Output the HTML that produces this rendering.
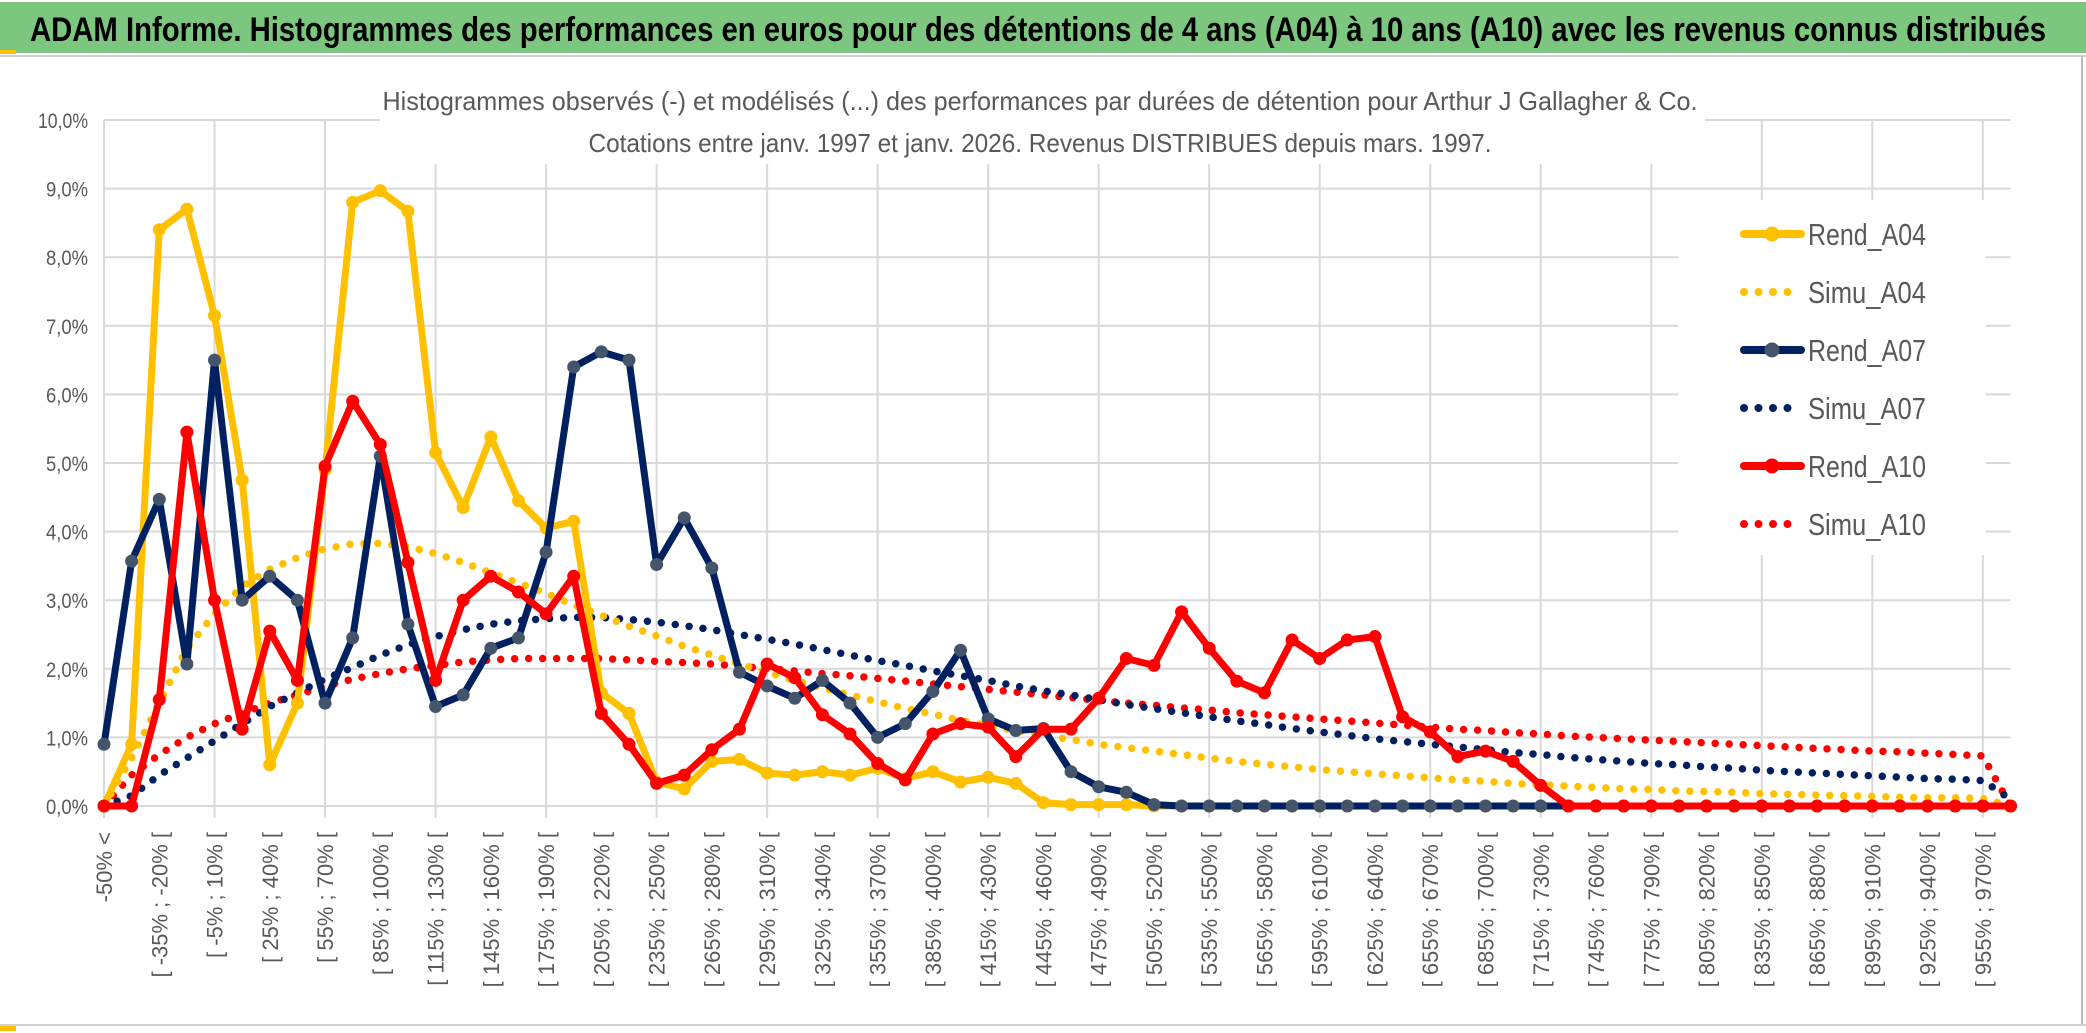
<!DOCTYPE html>
<html><head><meta charset="utf-8"><style>
html,body{margin:0;padding:0;background:#fff;}
svg{display:block;font-family:"Liberation Sans",sans-serif;}
</style></head><body>
<svg id="chart" width="2086" height="1033" viewBox="0 0 2086 1033" xmlns="http://www.w3.org/2000/svg">
<rect x="0" y="0" width="2086" height="1033" fill="#fff"/>
<rect x="0" y="2" width="2086" height="51" fill="#7dc67f"/>
<rect x="0" y="50" width="16" height="4" fill="#ffc000"/>
<line x1="0" y1="56" x2="2086" y2="56" stroke="#d0d0d0" stroke-width="2"/>
<text x="30" y="41" font-size="34" font-weight="bold" fill="#000" textLength="2016" lengthAdjust="spacingAndGlyphs">ADAM Informe. Histogrammes des performances en euros pour des détentions de 4 ans (A04) à 10 ans (A10) avec les revenus connus distribués</text>
<line x1="2082" y1="56" x2="2082" y2="1025" stroke="#bdbdbd" stroke-width="2"/>
<line x1="0" y1="1025" x2="2086" y2="1025" stroke="#d0d0d0" stroke-width="2"/>
<rect x="0" y="1026" width="16" height="5" fill="#ffc000"/>
<g id="grid"></g>
<rect x="380" y="76" width="1325" height="88" fill="#fff"/>
<text x="1040" y="110" font-size="26" fill="#595959" text-anchor="middle" textLength="1315" lengthAdjust="spacingAndGlyphs">Histogrammes observés (-) et modélisés (...) des performances par durées de détention pour Arthur J Gallagher &amp; Co.</text>
<text x="1040" y="152" font-size="26" fill="#595959" text-anchor="middle" textLength="903" lengthAdjust="spacingAndGlyphs">Cotations entre janv. 1997 et janv. 2026. Revenus DISTRIBUES depuis mars. 1997.</text>
<g id="yaxis"></g>
<g id="xaxis"></g>
<g id="series"></g>
<g id="legend"></g>
</svg>
<script>
const yTicks = [0,1,2,3,4,5,6,7,8,9,10];
const binStart = -50, binStep = 15, binCount = 68;
const rendA04 = [0,0.9,8.4,8.7,7.15,4.75,0.6,1.5,4.9,8.8,8.97,8.67,5.15,4.35,5.38,4.45,4.05,4.15,1.65,1.35,0.35,0.25,0.65,0.68,0.48,0.45,0.5,0.45,0.55,0.4,0.5,0.35,0.42,0.33,0.05,0.02,0.02,0.02,0,0,0,0,0,0,0,0,0,0,0,0,0,0,0,0,0,0,0,0,0,0,0,0,0,0,0,0,0,0,0,0];
const simuA04 = [0,0.7,1.5,2.3,2.8,3.2,3.45,3.62,3.75,3.82,3.83,3.78,3.68,3.55,3.4,3.25,3.1,2.93,2.78,2.62,2.48,2.33,2.2,2.07,1.95,1.83,1.72,1.62,1.52,1.42,1.34,1.25,1.17,1.1,1.03,0.97,0.9,0.85,0.8,0.75,0.7,0.65,0.61,0.57,0.53,0.5,0.47,0.44,0.41,0.38,0.36,0.33,0.31,0.29,0.27,0.25,0.24,0.22,0.21,0.2,0.18,0.17,0.16,0.15,0.14,0.13,0.12,0.12,0.11,0];
const rendA07 = [0.9,3.57,4.47,2.07,6.5,3.0,3.35,3.0,1.5,2.45,5.1,2.65,1.45,1.62,2.3,2.45,3.7,6.4,6.62,6.5,3.52,4.2,3.47,1.95,1.75,1.57,1.83,1.5,1.0,1.2,1.67,2.27,1.27,1.1,1.13,0.5,0.28,0.2,0.02,0,0,0,0,0,0,0,0,0,0,0,0,0,0,0,0,0,0,0,0,0,0,0,0,0,0,0,0,0,0,0];
const simuA07 = [0,0.15,0.45,0.7,0.95,1.2,1.45,1.65,1.85,2.02,2.2,2.35,2.47,2.57,2.65,2.7,2.73,2.75,2.75,2.72,2.68,2.63,2.57,2.5,2.43,2.36,2.28,2.2,2.12,2.05,1.97,1.9,1.83,1.75,1.68,1.62,1.55,1.48,1.42,1.36,1.3,1.24,1.19,1.13,1.08,1.03,0.98,0.94,0.9,0.86,0.82,0.78,0.75,0.71,0.68,0.65,0.62,0.6,0.57,0.55,0.52,0.5,0.48,0.46,0.44,0.42,0.4,0.39,0.37,0.1];
const rendA10 = [0,0,1.55,5.45,3.0,1.12,2.55,1.83,4.95,5.9,5.27,3.55,1.83,3.0,3.35,3.12,2.8,3.35,1.35,0.9,0.33,0.45,0.82,1.12,2.07,1.87,1.33,1.05,0.62,0.38,1.05,1.2,1.15,0.72,1.12,1.12,1.57,2.15,2.05,2.83,2.3,1.82,1.65,2.42,2.15,2.42,2.47,1.3,1.08,0.72,0.8,0.65,0.3,0,0,0,0,0,0,0,0,0,0,0,0,0,0,0,0,0];
const simuA10 = [0,0.45,0.75,1.0,1.2,1.35,1.5,1.62,1.75,1.85,1.93,2.0,2.05,2.1,2.13,2.15,2.15,2.15,2.15,2.13,2.11,2.09,2.07,2.04,2.0,1.97,1.93,1.9,1.86,1.82,1.78,1.74,1.7,1.66,1.62,1.58,1.54,1.5,1.47,1.43,1.4,1.36,1.33,1.3,1.27,1.24,1.21,1.18,1.15,1.12,1.1,1.07,1.05,1.02,1.0,0.98,0.96,0.94,0.92,0.9,0.88,0.86,0.84,0.82,0.8,0.79,0.77,0.75,0.73,0];

const NS = "http://www.w3.org/2000/svg";
const X0 = 104, DX = 27.63, Y0 = 806, YTOP = 120, YMAX = 10;
const nCat = rendA04.length;
function xPos(i){ return X0 + i*DX; }
function yPos(v){ return Y0 - (v/YMAX)*(Y0-YTOP); }
function mk(tag, attrs, parent){ const e=document.createElementNS(NS,tag); for(const k in attrs) e.setAttribute(k,attrs[k]); parent.appendChild(e); return e; }

const categories = ["-50% <"];
for(let k=0;k<binCount;k++){ const a=binStart+k*binStep; categories.push("[ "+a+"% ; "+(a+binStep)+"% ["); }
categories.push("> "+(binStart+binCount*binStep)+"%");

const grid = document.getElementById('grid');
yTicks.forEach(t=>{
  const l = mk('line',{x1:xPos(0),x2:xPos(nCat-1),y1:yPos(t),y2:yPos(t),stroke:'#d9d9d9','stroke-width':2},grid);
  
  
});
for(let i=0;i<nCat-1;i+=4){
  const l = mk('line',{x1:xPos(i),x2:xPos(i),y1:yPos(YMAX),y2:Y0+12,stroke:'#d9d9d9','stroke-width':2},grid);
  
  
}
const yaxis = document.getElementById('yaxis');
yTicks.forEach(t=>{
  const tx = mk('text',{x:88,y:yPos(t)+8,'font-size':21,fill:'#595959','text-anchor':'end',textLength:t===10?50:42,lengthAdjust:'spacingAndGlyphs'},yaxis);
  tx.textContent = t.toFixed(1).replace('.',',')+'%';
  
  
});
const xaxis = document.getElementById('xaxis');
for(let i=0;i<nCat-1;i+=2){
  const x = xPos(i)+8, y = 832;
  const tx = mk('text',{x:x,y:y,'font-size':22,fill:'#595959','text-anchor':'end',transform:'rotate(-90 '+x+' '+y+')'},xaxis);
  tx.textContent = categories[i];
  
  
}

const seriesDefs = [
  {name:'simu-a10',data:simuA10,color:'#ff0000',dotted:true},
  {name:'simu-a07',data:simuA07,color:'#002060',dotted:true},
  {name:'simu-a04',data:simuA04,color:'#ffc000',dotted:true},
  {name:'rend-a04',data:rendA04,color:'#ffc000',marker:'#ffc000'},
  {name:'rend-a07',data:rendA07,color:'#002060',marker:'#44546a'},
  {name:'rend-a10',data:rendA10,color:'#ff0000',marker:'#ff0000'}
];
const sg = document.getElementById('series');
seriesDefs.forEach(s=>{
  const g = mk('g',{},sg);
  
  
  const pts = s.data.map((v,i)=>xPos(i).toFixed(1)+','+yPos(v).toFixed(1)).join(' ');
  const pl = mk('polyline',{points:pts,fill:'none',stroke:s.color,'stroke-width':s.dotted?7.5:7,'stroke-linejoin':'round','stroke-linecap':'round'},g);
  if(s.dotted){ pl.setAttribute('stroke-dasharray','0 14'); }
  
  
  if(s.marker){
    s.data.forEach((v,i)=>{
      const c = mk('circle',{cx:xPos(i),cy:yPos(v),r:6.5,fill:s.marker},g);
      
      
    });
  }
});

const legendItems = [
  {label:'Rend_A04',color:'#ffc000',marker:'#ffc000'},
  {label:'Simu_A04',color:'#ffc000',dotted:true},
  {label:'Rend_A07',color:'#002060',marker:'#44546a'},
  {label:'Simu_A07',color:'#002060',dotted:true},
  {label:'Rend_A10',color:'#ff0000',marker:'#ff0000'},
  {label:'Simu_A10',color:'#ff0000',dotted:true}
];
const lg = document.getElementById('legend');
mk('rect',{x:1678,y:200,width:308,height:355,fill:'#fff'},lg);
legendItems.forEach((it,k)=>{
  const y = 234 + k*58;
  const g = mk('g',{},lg);
  
  
  const l = mk('line',{x1:1744,x2:it.dotted?1790:1801,y1:y,y2:y,stroke:it.color,'stroke-width':it.dotted?8:8,'stroke-linecap':'round'},g);
  if(it.dotted) l.setAttribute('stroke-dasharray','0 14.5');
  if(it.marker) mk('circle',{cx:1772,cy:y,r:7.5,fill:it.marker},g);
  const t = mk('text',{x:1808,y:y+11,'font-size':31,fill:'#595959',textLength:118,lengthAdjust:'spacingAndGlyphs'},g);
  t.textContent = it.label;
});
</script>
</body></html>
